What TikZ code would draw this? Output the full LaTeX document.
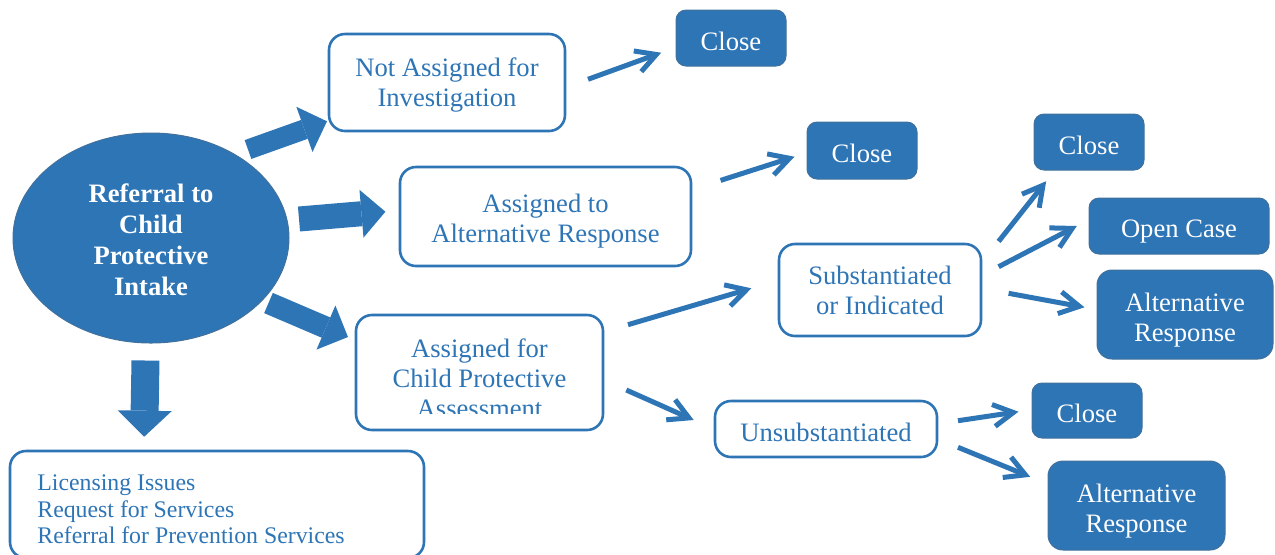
\documentclass[tikz,border=0pt]{standalone}
\usepackage{fontspec}
\setmainfont{Liberation Serif}
\usetikzlibrary{arrows.meta,calc,shapes.geometric}
\definecolor{cpblue}{RGB}{46,117,182}
\definecolor{cpedge}{RGB}{65,113,156}
\tikzset{
  txt/.style={font=\fontsize{13.3}{15}\selectfont, align=center, inner sep=0pt},
  drop/.style={execute at begin node={\rule{0pt}{#1}}},
  wbox/.style={txt, drop=12.5pt, draw=cpblue, line width=1.3pt, fill=white, rounded corners=8pt, text=cpblue},
  bbox/.style={txt, drop=12.5pt, draw=cpedge, line width=0.5pt, fill=cpblue, rounded corners=5pt, text=white},
  flow/.style={draw=cpblue, line width=2.5pt, -{Straight Barb[length=10pt,width=11pt]}},
  bigflow/.style={draw=cpblue, line width=#1, -{Triangle[length=12pt,width=24pt,line width=0pt]}},
}
\begin{document}
\begin{tikzpicture}[x=0.5pt, y=-0.5pt]
\useasboundingbox (0,0) rectangle (1275,554);

% intake
\node[ellipse, fill=cpblue, draw=cpedge, line width=0.5pt, minimum width=138pt, minimum height=105pt,
  text=white, font=\bfseries\fontsize{13.3}{15.5}\selectfont, align=center, inner sep=0pt]
  (intake) at (151,238) {\rule{0pt}{11pt}Referral to\\Child\\Protective\\Intake};

% first level
\node[wbox, minimum width=118pt, minimum height=48.5pt] (na) at (447,82.5) {\rule{0pt}{12pt}Not Assigned for\\Investigation};
\node[wbox, minimum width=145.5pt, minimum height=49.5pt] (ar) at (545.5,216.5) {\rule{0pt}{13.5pt}Assigned to\\Alternative Response};
\node[wbox, minimum width=123.5pt, minimum height=57.5pt] (cpa) at (479.5,372.5) {};
\begin{scope}
  \clip (356,300) rectangle (603,413);
  \node[txt, text=cpblue] at (479.5,378.5) {Assigned for\\Child Protective\\Assessment};
\end{scope}
\node[wbox, minimum width=207pt, minimum height=53.5pt] (other) at (217,504.5) {};
\begin{scope}
  \clip (10,451) rectangle (424,545);
  \node[txt, text=cpblue, font=\fontsize{11.9}{13.25}\selectfont, align=left, anchor=west]
    at (37,509.5) {Licensing Issues\\Request for Services\\Referral for Prevention Services};
\end{scope}

% outcomes
\node[bbox, minimum width=55pt, minimum height=28pt] (close1) at (731,38) {Close};
\node[bbox, minimum width=55pt, minimum height=28.5pt] (close2) at (862,150.5) {Close};
\node[wbox, minimum width=101pt, minimum height=46pt] (si) at (880,290) {\rule{0pt}{10pt}Substantiated\\or Indicated};
\node[wbox, minimum width=111pt, minimum height=28pt] (un) at (826,429) {Unsubstantiated};
\node[bbox, minimum width=55pt, minimum height=28pt] (close3) at (1089,142) {Close};
\node[bbox, drop=14pt, minimum width=90pt, minimum height=28pt] (open) at (1179,226) {Open Case};
\node[bbox, rounded corners=7.5pt, minimum width=88pt, minimum height=44.5pt] (alt1) at (1185,314.5) {\rule{0pt}{15pt}Alternative\\Response};
\node[bbox, minimum width=55pt, minimum height=27.5pt] (close4) at (1087,410.5) {Close};
\node[bbox, rounded corners=7.5pt, minimum width=88.5pt, minimum height=44.5pt] (alt2) at (1136.5,505.5) {\rule{0pt}{15pt}Alternative\\Response};

% block arrows out of the intake
\draw[bigflow=10pt] ($(intake.center)+(97,-88.5)$) -- ($(na.south west)+(-0.7,-11)$);
\draw[bigflow=12.5pt] ($(intake.center)+(148,-19)$) -- ($(ar.west)+(-13.3,-4.8)$);
\draw[bigflow=11pt] ($(intake.center)+(117.5,65)$) -- ($(cpa.north west)+(-6.7,23.3)$);
\draw[bigflow=14pt, -{Triangle[length=13pt,width=27pt,line width=0pt]}]
  ($(intake.south)+(-5.5,17)$) -- ($(other.north west)+(135.5,-13)$);

% thin arrows
\draw[flow] ($(na.east)+(21.7,-3.2)$) -- ($(close1.west)+(-14.3,14.7)$);
\draw[flow] ($(ar.north east)+(28.3,14.7)$) -- ($(close2.west)+(-12,6.2)$);
\draw[flow] ($(cpa.north east)+(23.7,11)$) -- ($(si.west)+(-26.3,-1.7)$);
\draw[flow] ($(cpa.east)+(22,17.5)$) -- ($(un.west)+(-20,-9)$);
\draw[flow] ($(si.north east)+(16.3,-1.3)$) -- ($(close3.south west)+(12.7,10.7)$);
\draw[flow] ($(si.east)+(16.3,-23.3)$) -- ($(open.west)+(-11.7,0)$);
\draw[flow] ($(si.east)+(26.3,3.3)$) -- ($(alt1.west)+(-12,-7.2)$);
\draw[flow] ($(un.east)+(19.7,-8.3)$) -- ($(close4.west)+(-13,1.2)$);
\draw[flow] ($(un.east)+(19.7,18.3)$) -- ($(alt2.north west)+(-17.3,16.3)$);
\end{tikzpicture}
\end{document}
